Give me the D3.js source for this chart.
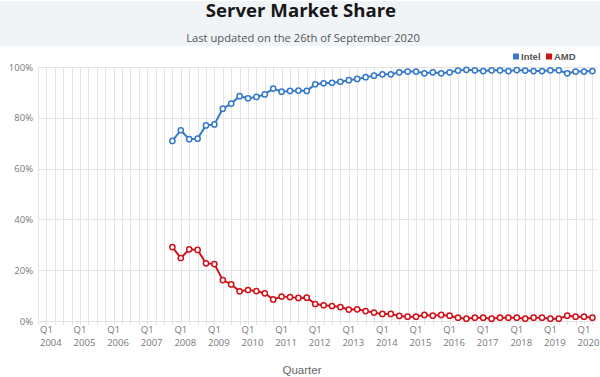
<!DOCTYPE html>
<html>
<head>
<script src="https://d3js.org/d3.v7.min.js"></script>
<style>
  body { margin: 0; background: #fff; }
  svg { display: block; }
</style>
</head>
<body>
<svg width="600" height="377"></svg>
<script>
// quarters shown on the axis: Q1 2004 .. Q3 2020
const years = d3.range(2004, 2021);
const quarters = ["Q1", "Q2", "Q3", "Q4"];
const firstDataQuarter = "Q1 2008";

// share in percent, one value per quarter from Q1 2008
const intel = [70.9, 75.1, 71.6, 71.8, 77.0, 77.4, 83.6, 85.6, 88.5, 87.7,
               88.2, 89.2, 91.5, 90.3, 90.6, 90.7, 90.6, 93.2, 93.6, 93.8,
               94.2, 94.8, 95.3, 96.0, 96.6, 97.1, 97.1, 97.9, 98.2, 98.2,
               97.5, 97.9, 97.5, 97.9, 98.6, 98.9, 98.7, 98.4, 98.7, 98.7,
               98.4, 98.8, 98.6, 98.4, 98.4, 98.7, 98.7, 97.5, 98.2, 98.2, 98.4];
const amd = [29.1, 24.8, 28.2, 28.0, 22.7, 22.4, 16.1, 14.4, 11.7, 12.2,
             11.8, 10.9, 8.5, 9.6, 9.4, 9.1, 9.2, 6.7, 6.2, 5.9,
             5.5, 4.5, 4.6, 3.9, 3.3, 2.8, 2.8, 2.0, 1.7, 1.7,
             2.4, 2.1, 2.4, 2.1, 1.3, 0.9, 1.3, 1.3, 0.9, 1.3,
             1.3, 1.3, 0.9, 1.3, 1.3, 0.9, 0.9, 2.1, 1.7, 1.7, 1.3];
const yTicks = [0, 20, 40, 60, 80, 100];

const series = [
  { name: "Intel", color: "#3579c9", values: intel },
  { name: "AMD", color: "#d0121b", values: amd }
];

const categories = [];
years.forEach(y => quarters.forEach(q => categories.push(q + " " + y)));
categories.splice(categories.indexOf("Q3 2020") + 1);

const svg = d3.select("svg");
const plotL = 38, plotR = 592.4, plotT = 67, plotB = 321;

const x = d3.scalePoint().domain(categories).range([plotL, plotR]);
const y = d3.scaleLinear().domain([0, 100]).range([plotB, plotT]);

// header band
svg.append("rect").attr("x", 0).attr("y", 1).attr("width", 600).attr("height", 45)
  .attr("fill", "#f0f4f7");
svg.append("text").attr("x", 301).attr("y", 17).attr("text-anchor", "middle")
  .attr("font-family", "'Open Sans', sans-serif").attr("font-weight", 700)
  .attr("font-size", 18.6).attr("fill", "#161616").text("Server Market Share");
svg.append("text").attr("x", 303).attr("y", 41.7).attr("text-anchor", "middle")
  .attr("font-family", "'Open Sans', sans-serif")
  .attr("font-size", 11.2).attr("fill", "#555").text("Last updated on the 26th of September 2020");

// grid
const grid = svg.append("g").attr("stroke", "#e4e4e4").attr("stroke-width", 1);
grid.selectAll("line.v").data(categories).enter().append("line")
  .attr("x1", d => Math.round(x(d)) + 0.5).attr("x2", d => Math.round(x(d)) + 0.5)
  .attr("y1", plotT).attr("y2", plotB + 4);
grid.selectAll("line.h").data(yTicks).enter().append("line")
  .attr("x1", plotL).attr("x2", 597)
  .attr("y1", d => Math.round(y(d)) + 0.5).attr("y2", d => Math.round(y(d)) + 0.5);

// y axis
const yAxis = d3.axisLeft(y).tickValues(yTicks).tickFormat(d => d + "%").tickSize(0).tickPadding(5);
const ya = svg.append("g").attr("transform", `translate(${plotL},0)`).call(yAxis);
ya.select(".domain").remove();
ya.selectAll("text").attr("font-family", "'Open Sans', sans-serif")
  .attr("font-size", 9.5).attr("fill", "#777");

// x axis: only Q1 labels, two lines
const xa = svg.append("g").attr("font-family", "'Open Sans', sans-serif")
  .attr("font-size", 9.5).attr("fill", "#777");
const q1 = categories.filter(c => c.startsWith("Q1"));
const lab = xa.selectAll("text").data(q1).enter().append("text")
  .attr("x", d => x(d) + 2).attr("y", 333);
lab.append("tspan").text(d => d.split(" ")[0]);
lab.append("tspan").attr("x", d => x(d) + 2).attr("dy", 13).text(d => d.split(" ")[1]);

svg.append("text").attr("x", 302).attr("y", 374).attr("text-anchor", "middle")
  .attr("font-family", "'Liberation Sans', Arial, sans-serif")
  .attr("font-size", 11.5).attr("fill", "#666").text("Quarter");

// lines
const start = categories.indexOf(firstDataQuarter);
const line = d3.line().x((d, i) => x(categories[start + i])).y(d => y(d));
series.forEach(s => {
  svg.append("path").datum(s.values).attr("d", line)
    .attr("fill", "none").attr("stroke", s.color).attr("stroke-width", 2);
  svg.append("g").selectAll("circle").data(s.values).enter().append("circle")
    .attr("cx", (d, i) => x(categories[start + i])).attr("cy", d => y(d))
    .attr("r", 2.6).attr("fill", "#fff").attr("stroke", s.color).attr("stroke-width", 1.5);
});

// legend
const lg = svg.append("g").attr("font-family", "'Liberation Sans', Arial, sans-serif")
  .attr("font-size", 9.5).attr("font-weight", 700).attr("fill", "#555");
const lx = [513, 546];
series.forEach((s, i) => {
  lg.append("rect").attr("x", lx[i]).attr("y", 53.5).attr("width", 6).attr("height", 6)
    .attr("fill", s.color);
  lg.append("text").attr("x", lx[i] + 8).attr("y", 60).text(s.name);
});
</script>
</body>
</html>
